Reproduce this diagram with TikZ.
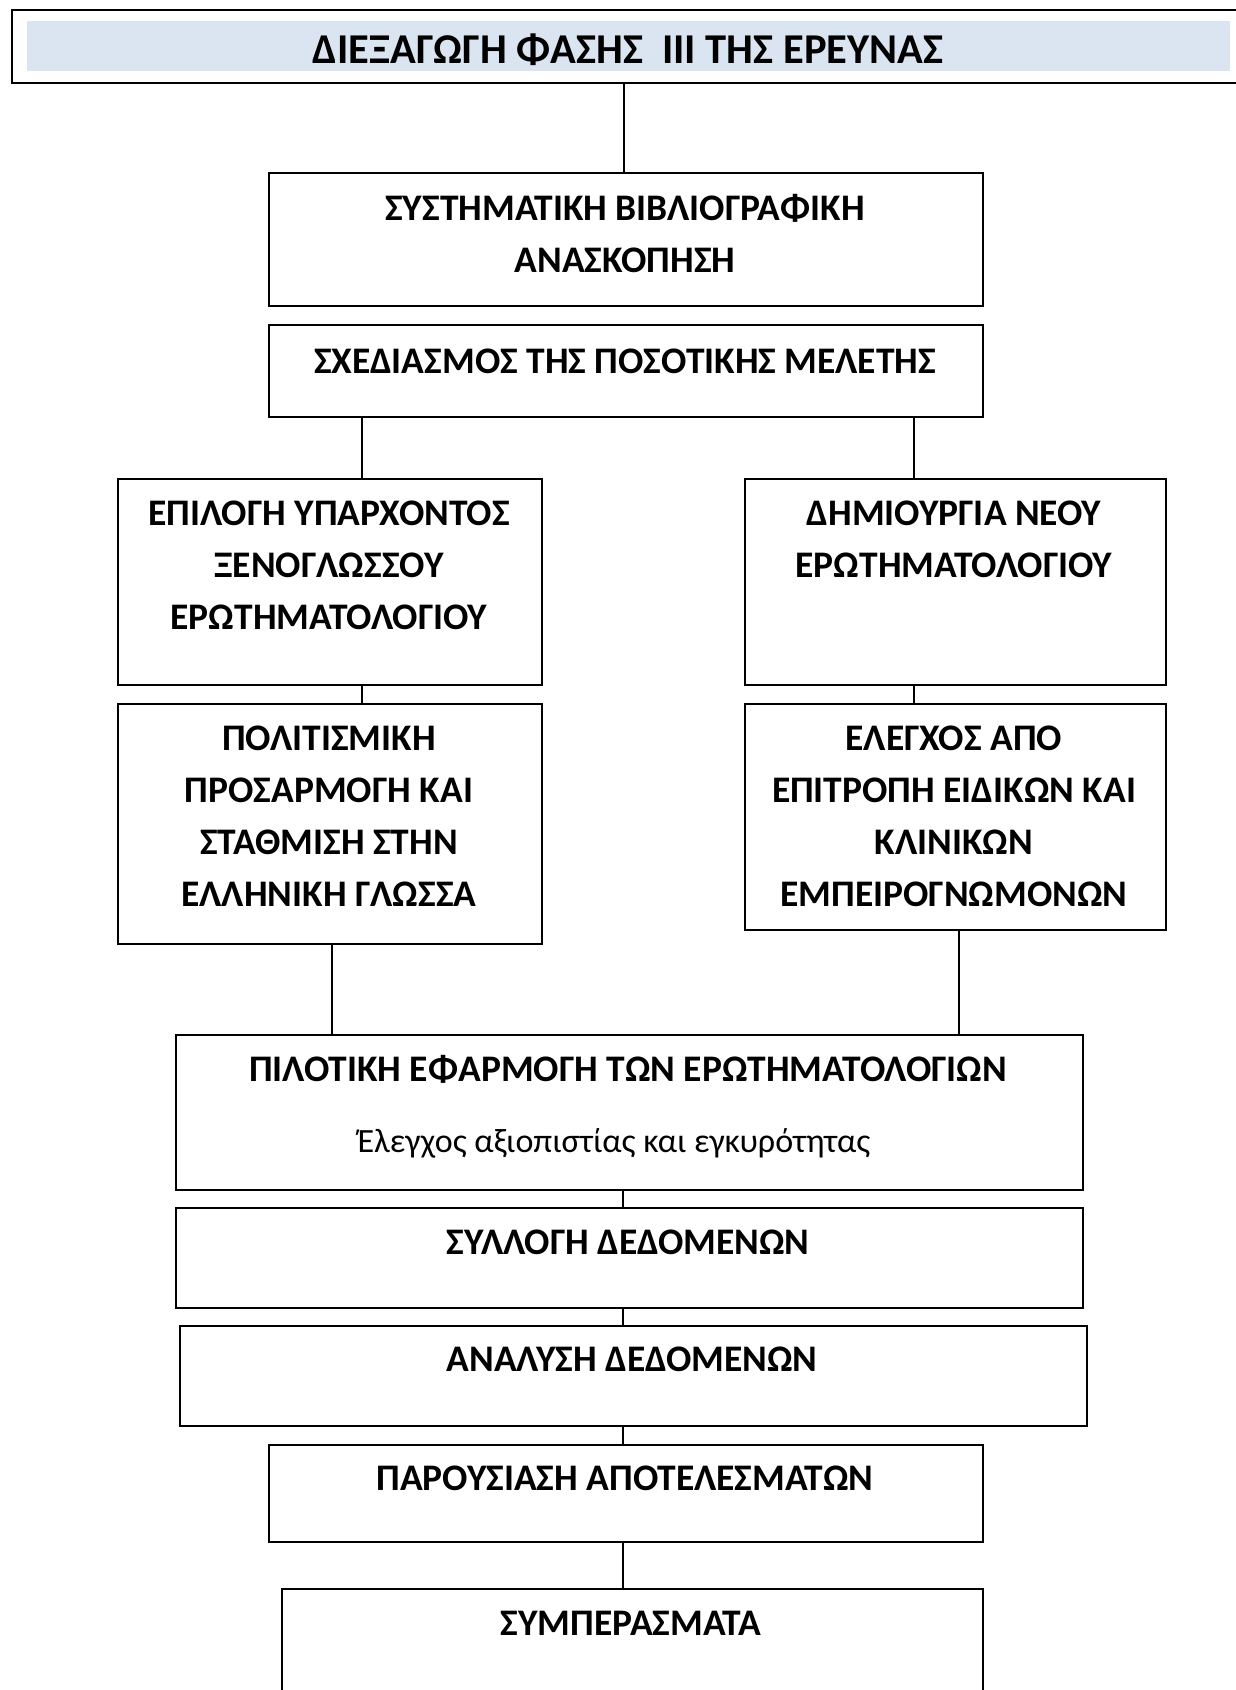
\documentclass[tikz,border=0pt]{standalone}
\usepackage{fontspec}
\setmainfont{Carlito}
\definecolor{titlefill}{HTML}{DBE5F1}
\begin{document}
\begin{tikzpicture}[x=1pt,y=-1pt,
  box/.style={draw,line width=2pt,inner sep=0pt,anchor=north west},
  txt/.style={font=\fontsize{37.5}{52}\selectfont\bfseries,align=center,inner sep=0pt},
  titletxt/.style={font=\fontsize{42.5}{52}\selectfont\bfseries,align=center,inner sep=0pt},
  subtxt/.style={font=\fontsize{34}{40}\selectfont,align=center,inner sep=0pt},
  conn/.style={line width=1.6pt}]
\useasboundingbox (0,0) rectangle (1236,1690);
% title
\node[box,minimum width=1260pt,minimum height=73pt] (t) at (11,9) {};
\fill[titlefill] (27,21) rectangle (1230,71);
\node[titletxt] (tt) at (628,50) {ΔΙΕΞΑΓΩΓΗ ΦΑΣΗΣ\ \ III ΤΗΣ ΕΡΕΥΝΑΣ};
% boxes
\node[box,minimum width=714pt,minimum height=133pt] (b1) at (268,172) {};
\node[box,minimum width=714pt,minimum height=92pt] (b2) at (268,324) {};
\node[box,minimum width=424pt,minimum height=206pt] (bA) at (117,478) {};
\node[box,minimum width=421pt,minimum height=206pt] (bB) at (744,478) {};
\node[box,minimum width=424pt,minimum height=240pt] (bC) at (117,703) {};
\node[box,minimum width=421pt,minimum height=226pt] (bD) at (744,703) {};
\node[box,minimum width=907pt,minimum height=155pt] (bE) at (175,1034) {};
\node[box,minimum width=907pt,minimum height=100pt] (bF) at (175,1207) {};
\node[box,minimum width=907pt,minimum height=100pt] (bG) at (179,1325) {};
\node[box,minimum width=714pt,minimum height=97pt] (bH) at (268,1444) {};
\node[box,minimum width=701pt,minimum height=140pt] (bI) at (281,1588) {};
% texts
\node[txt] (t1) at (625,234) {ΣΥΣΤΗΜΑΤΙΚΗ ΒΙΒΛΙΟΓΡΑΦΙΚΗ\\ΑΝΑΣΚΟΠΗΣΗ};
\node[txt] (t2) at (625,361) {ΣΧΕΔΙΑΣΜΟΣ ΤΗΣ ΠΟΣΟΤΙΚΗΣ ΜΕΛΕΤΗΣ};
\node[txt] (tA) at (329,565) {ΕΠΙΛΟΓΗ ΥΠΑΡΧΟΝΤΟΣ\\ΞΕΝΟΓΛΩΣΣΟΥ\\ΕΡΩΤΗΜΑΤΟΛΟΓΙΟΥ};
\node[txt] (tB) at (954,539) {ΔΗΜΙΟΥΡΓΙΑ ΝΕΟΥ\\ΕΡΩΤΗΜΑΤΟΛΟΓΙΟΥ};
\node[txt] (tC) at (329,816) {ΠΟΛΙΤΙΣΜΙΚΗ\\ΠΡΟΣΑΡΜΟΓΗ ΚΑΙ\\ΣΤΑΘΜΙΣΗ ΣΤΗΝ\\ΕΛΛΗΝΙΚΗ ΓΛΩΣΣΑ};
\node[txt] (tD) at (954,816) {ΕΛΕΓΧΟΣ ΑΠΟ\\ΕΠΙΤΡΟΠΗ ΕΙΔΙΚΩΝ ΚΑΙ\\ΚΛΙΝΙΚΩΝ\\ΕΜΠΕΙΡΟΓΝΩΜΟΝΩΝ};
\node[txt] (tE) at (628,1069) {ΠΙΛΟΤΙΚΗ ΕΦΑΡΜΟΓΗ ΤΩΝ ΕΡΩΤΗΜΑΤΟΛΟΓΙΩΝ};
\node[subtxt] (tE2) at (614,1143) {Έλεγχος αξιοπιστίας και εγκυρότητας};
\node[txt] (tF) at (628,1242) {ΣΥΛΛΟΓΗ ΔΕΔΟΜΕΝΩΝ};
\node[txt] (tG) at (632,1359) {ΑΝΑΛΥΣΗ ΔΕΔΟΜΕΝΩΝ};
\node[txt] (tH) at (625,1478) {ΠΑΡΟΥΣΙΑΣΗ ΑΠΟΤΕΛΕΣΜΑΤΩΝ};
\node[txt] (tI) at (631,1623) {ΣΥΜΠΕΡΑΣΜΑΤΑ};
% connectors
\draw[conn] ([xshift=-2pt]b1.north) -- ([xshift=-2pt]b1.north |- t.south);
\draw[conn] ([xshift=94pt]b2.south west) -- ([xshift=245pt]bA.north west);
\draw[conn] ([xshift=646pt]b2.south west) -- ([xshift=170pt]bB.north west);
\draw[conn] ([xshift=245pt]bA.south west) -- ([xshift=245pt]bC.north west);
\draw[conn] ([xshift=170pt]bB.south west) -- ([xshift=170pt]bD.north west);
\draw[conn] ([xshift=215pt]bC.south west) -- ([xshift=157pt]bE.north west);
\draw[conn] ([xshift=215pt]bD.south west) -- ([xshift=784pt]bE.north west);
\draw[conn] ([xshift=448pt]bE.south west) -- ([xshift=448pt]bF.north west);
\draw[conn] ([xshift=448pt]bF.south west) -- ([xshift=444pt]bG.north west);
\draw[conn] ([xshift=444pt]bG.south west) -- ([xshift=355pt]bH.north west);
\draw[conn] ([xshift=355pt]bH.south west) -- ([xshift=342pt]bI.north west);
\end{tikzpicture}
\end{document}
